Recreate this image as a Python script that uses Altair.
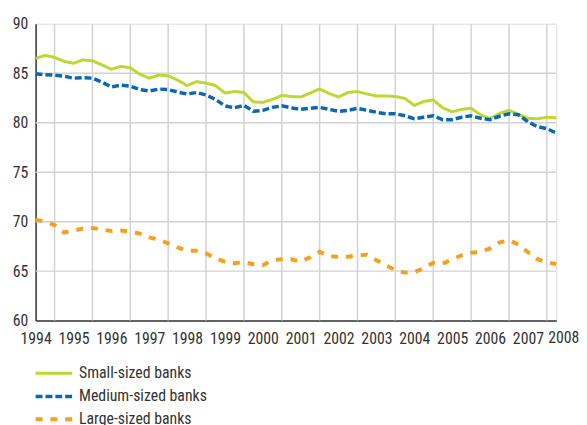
import altair as alt
import pandas as pd

# Quarterly observations 1994Q1 .. 2007Q4
small = [86.5, 86.8, 86.6, 86.2, 86.0, 86.35, 86.25, 85.85, 85.4, 85.7,
         85.55, 84.9, 84.5, 84.8, 84.75, 84.3, 83.75, 84.15, 84.0, 83.75,
         83.0, 83.15, 83.05, 82.1, 82.05, 82.35, 82.75, 82.65,
         82.6, 83.0, 83.4, 82.95, 82.6, 83.05, 83.15, 82.9, 82.7, 82.7,
         82.65, 82.45, 81.75, 82.15, 82.3, 81.5, 81.1, 81.35, 81.45, 80.8,
         80.4, 80.95, 81.25, 80.85, 80.45, 80.4, 80.55, 80.5]
medium = [84.95, 84.85, 84.8, 84.7, 84.5, 84.55, 84.5, 84.1, 83.6, 83.8,
          83.7, 83.35, 83.2, 83.4, 83.35, 83.1, 82.9, 83.05, 82.8, 82.35,
          81.7, 81.5, 81.75, 81.15, 81.25, 81.55, 81.7, 81.5,
          81.35, 81.45, 81.55, 81.35, 81.15, 81.25, 81.45, 81.25, 81.05, 80.9,
          80.9, 80.7, 80.4, 80.55, 80.7, 80.3, 80.3, 80.55, 80.7, 80.45,
          80.3, 80.65, 80.9, 80.8, 80.1, 79.6, 79.4, 78.95]
large = [70.2, 70.0, 69.65, 68.9, 69.1, 69.3, 69.35, 69.2, 69.05, 69.1,
         69.0, 68.8, 68.4, 68.2, 67.8, 67.4, 67.05, 67.05, 66.8, 66.3,
         65.95, 65.8, 65.9, 65.7, 65.6, 66.1, 66.2, 66.2,
         65.95, 66.4, 66.95, 66.5, 66.45, 66.45, 66.6, 66.65, 66.1, 65.6,
         65.1, 64.85, 64.9, 65.3, 65.85, 65.75, 66.2, 66.6, 66.85, 66.95,
         67.3, 67.9, 68.1, 67.7, 66.9, 66.2, 65.9, 65.7]

series_names = ["Small-sized banks", "Medium-sized banks", "Large-sized banks"]
colors = ["#bfd730", "#0a67b2", "#f8a01c"]
year_labels = list(range(1994, 2008))
last_year_label = [2008]
y_ticks = [60, 65, 70, 75, 80, 85, 90]
h_grid = [65, 70, 75, 80, 85]
v_grid = [y + 0.5 for y in range(1994, 2008)]

rows = []
for name, vals in zip(series_names, [small, medium, large]):
    for k, v in enumerate(vals):
        rows.append({"t": 1994 + k / 4, "value": v, "series": name})
df = pd.DataFrame(rows)

W, H = 528, 301
FONT = "Liberation Sans Narrow, Roboto Condensed, DejaVu Sans Condensed, sans-serif"
FS = 16
GRID = "#d2d2d2"
TXT = "#333333"
LPAD = 10

xscale = alt.Scale(domain=[1994, 2007.75], nice=False, zero=False)
yscale = alt.Scale(domain=[60, 90], nice=False, zero=False)

vgrid = alt.Chart(pd.DataFrame({"t": v_grid})).mark_rule(
    color=GRID, strokeWidth=1.5
).encode(x=alt.X("t:Q", scale=xscale), y=alt.value(0), y2=alt.value(H))

hgrid = alt.Chart(pd.DataFrame({"v": h_grid})).mark_rule(
    color=GRID, strokeWidth=1.5
).encode(y=alt.Y("v:Q", scale=yscale), x=alt.value(0), x2=alt.value(W))

last_label = alt.Chart(pd.DataFrame({"t": last_year_label})).mark_text(
    font=FONT, fontSize=FS, color=TXT, baseline="top", align="center", dx=-2
).encode(x=alt.X("t:Q", scale=xscale), y=alt.value(H + LPAD),
         text=alt.Text("t:Q", format="d"))

leg = alt.Legend(
    orient="none", legendX=6.5, legendY=343, direction="vertical", title=None,
    symbolType="M-1.85,0L1.85,0", symbolSize=400, labelFontSize=FS, labelFont=FONT,
    labelColor=TXT, labelOffset=13.5, padding=0, rowPadding=3,
)

lines = alt.Chart(df).mark_line().encode(
    x=alt.X("t:Q", scale=xscale, axis=alt.Axis(
        values=year_labels, format="d", grid=False, ticks=False,
        domainColor=TXT, domainWidth=1.5, labelFontSize=FS,
        labelFont=FONT, labelColor=TXT, labelPadding=LPAD,
        labelFlush=False, labelOverlap=False, title=None)),
    y=alt.Y("value:Q", scale=yscale, axis=alt.Axis(
        values=y_ticks, grid=False, ticks=False, domainColor=TXT,
        domainWidth=1.5, labelFontSize=FS, labelFont=FONT,
        labelColor=TXT, labelPadding=8, title=None)),
    color=alt.Color("series:N", sort=series_names,
                    scale=alt.Scale(domain=series_names, range=colors), legend=leg),
    strokeDash=alt.StrokeDash("series:N", sort=series_names,
                              scale=alt.Scale(domain=series_names,
                                              range=[[1, 0], [7, 3], [7, 8]]),
                              legend=leg),
    strokeWidth=alt.StrokeWidth("series:N", sort=series_names,
                                scale=alt.Scale(domain=series_names, range=[3, 4, 5.5]),
                                legend=leg),
    order=alt.Order("t:Q"),
)

chart = alt.layer(vgrid, hgrid, lines, last_label).properties(
    width=W, height=H,
    autosize=alt.AutoSizeParams(type="none"),
    padding={"left": 28, "top": 13, "right": 23, "bottom": 110},
).configure_view(stroke=None).configure(background="white")

chart.save("out.html", embed_options={"renderer": "svg", "actions": False})
